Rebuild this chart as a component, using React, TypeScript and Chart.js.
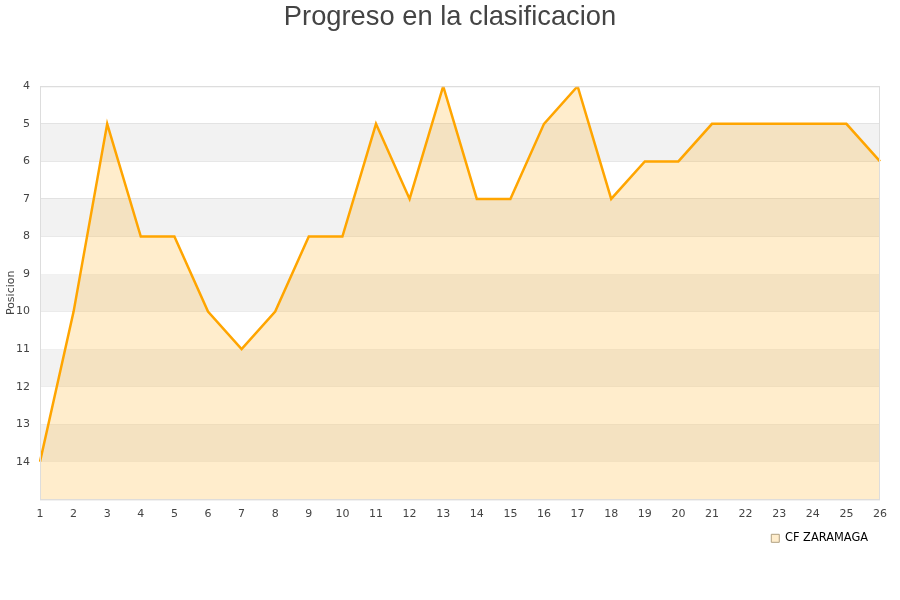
import React, { useEffect, useRef } from "react";
import { Chart, registerables } from "chart.js";

Chart.register(...registerables);

const jornadas = ["1","2","3","4","5","6","7","8","9","10","11","12","13","14","15","16","17","18","19","20","21","22","23","24","25","26"];
const posiciones = [14,10,5,8,8,10,11,10,8,8,5,7,4,7,7,5,4,7,6,6,5,5,5,5,5,6];
const teamName = "CF ZARAMAGA";
const chartTitle = "Progreso en la clasificacion";
const yTitle = "Posicion";
const bandStarts = [5,7,9,11,13];

const bandsPlugin = {
  id: "bands",
  beforeDatasetsDraw(chart: any) {
    const { ctx, chartArea, scales } = chart;
    const y = scales.y;
    ctx.save();
    ctx.fillStyle = "#f2f2f2";
    bandStarts.forEach((b) => {
      const y1 = y.getPixelForValue(b);
      const y2 = y.getPixelForValue(b + 1);
      ctx.fillRect(chartArea.left, Math.min(y1, y2), chartArea.right - chartArea.left, Math.abs(y2 - y1));
    });
    ctx.restore();
  },
  afterDatasetsDraw(chart: any) {
    const { ctx, chartArea } = chart;
    ctx.save();
    ctx.strokeStyle = "#dddddd";
    ctx.lineWidth = 1;
    ctx.strokeRect(chartArea.left + 0.5, chartArea.top + 0.5, chartArea.right - chartArea.left - 1, chartArea.bottom - chartArea.top);
    ctx.restore();
  },
};

export default function App() {
  const ref = useRef<HTMLCanvasElement>(null);
  useEffect(() => {
    const chart = new Chart(ref.current!, {
      type: "line",
      data: {
        labels: jornadas,
        datasets: [
          {
            label: teamName,
            data: posiciones,
            borderColor: "#FFA500",
            backgroundColor: "rgba(255,165,0,0.2)",
            borderWidth: 2.5,
            pointRadius: 0,
            tension: 0,
            fill: "start",
          },
        ],
      },
      options: {
        animation: false,
        responsive: false,
        maintainAspectRatio: false,
        layout: { padding: { left: 0, right: 0, top: 0, bottom: 46 } },
        plugins: {
          title: {
            display: true,
            text: chartTitle,
            color: "#444",
            font: { family: "'Liberation Sans', Arial, sans-serif", size: 27.3, weight: "normal" },
            padding: { top: 1, bottom: 52.5 },
          },
          legend: {
            position: "bottom",
            align: "end",
            fullSize: false,
            labels: {
              color: "#000",
              font: { family: "'DejaVu Sans', sans-serif", size: 11.4 },
              boxWidth: 8,
              boxHeight: 8,
              padding: 12,
              generateLabels: () => [
                {
                  text: teamName,
                  fillStyle: "rgba(255,165,0,0.2)",
                  strokeStyle: "#b0a080",
                  lineWidth: 1,
                  datasetIndex: 0,
                  fontColor: "#000",
                } as any,
              ],
            },
          },
          tooltip: { enabled: false },
        },
        scales: {
          x: {
            offset: false,
            grid: { display: false },
            border: { display: false },
            ticks: {
              color: "#444",
              font: { family: "'DejaVu Sans', sans-serif", size: 11 },
              maxRotation: 0,
              autoSkip: false,
              padding: 0,
            },
          },
          y: {
            reverse: true,
            min: 4,
            max: 15,
            border: { display: false },
            grid: { color: "#e0e0e0", drawTicks: false },
            title: {
              display: true,
              text: yTitle,
              color: "#444",
              font: { family: "'DejaVu Sans', sans-serif", size: 11 },
              padding: { top: 5, bottom: 0 },
            },
            ticks: {
              stepSize: 1,
              color: "#444",
              font: { family: "'DejaVu Sans', sans-serif", size: 11 },
              padding: 10,
              callback: (v: any) => (v === 15 ? "" : String(v)),
            },
            afterFit: (s: any) => {
              s.width = 40;
            },
          },
          yRight: {
            position: "right",
            display: true,
            grid: { display: false },
            border: { display: false },
            ticks: { display: false },
            afterFit: (s: any) => {
              s.width = 20;
            },
          },
        },
      },
      plugins: [bandsPlugin],
    });
    return () => chart.destroy();
  }, []);
  return (
    <div style={{ position: "fixed", left: 0, top: 0, width: 900, height: 600, background: "#fff" }}>
      <canvas ref={ref} width={900} height={600} />
    </div>
  );
}
